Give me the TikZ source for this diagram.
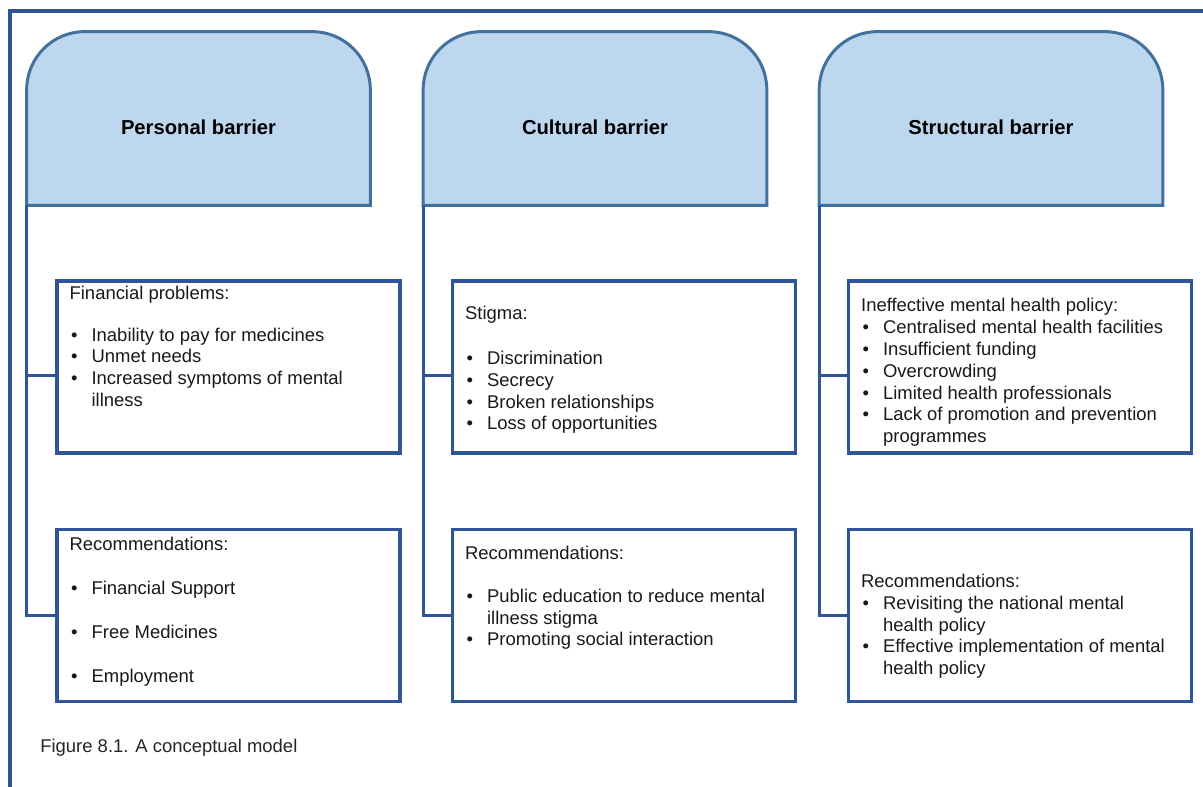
\documentclass[tikz,border=0pt]{standalone}
\usepackage{fontspec}
\setmainfont{Liberation Sans}
\usetikzlibrary{positioning,calc}
\definecolor{headfill}{HTML}{BDD7EE}
\definecolor{headline}{HTML}{41719C}
\definecolor{boxline}{HTML}{2F5597}
\pgfdeclarelayer{bg}
\pgfsetlayers{bg,main}
\newcommand{\itm}{\makebox[0.44cm][l]{\hspace{0.03cm}\textbullet}}

\begin{document}
\begin{tikzpicture}[
    x=0.02cm, y=0.02cm,
    head/.style={minimum width=6.86cm, minimum height=3.46cm, inner sep=0pt, text height=18pt, text depth=0pt, font=\bfseries\fontsize{11.5}{14}\selectfont},
    headshape/.style={draw=headline, fill=headfill, line width=1.7pt},
    box/.style={draw=boxline, line width=2pt, minimum width=6.86cm, minimum height=3.44cm, inner sep=0pt},
    txt/.style={anchor=north west, inner sep=0pt, align=left, text=black!90, font=\fontsize{10.5}{12.4}\selectfont},
    link/.style={draw=boxline, line width=1.7pt}
  ]
    \useasboundingbox (0,0) rectangle (1203,787);
    % outer frame
    \draw[boxline, line width=2pt] (1203,776) -| (10,0);
    % barrier headers
    \node[head] (h1) at (198.5,668.5) {Personal barrier};
    \node[head] (h2) at (595,668.5)   {Cultural barrier};
    \node[head] (h3) at (991,668.5)   {Structural barrier};
    \begin{pgfonlayer}{bg}
      \foreach \h in {h1,h2,h3}
        \draw[headshape] (\h.south west) -- ([yshift=-1.16cm]\h.north west)
          arc[start angle=180, end angle=90, radius=1.16cm] -- ([xshift=-1.16cm]\h.north east)
          arc[start angle=90, end angle=0, radius=1.16cm] -- (\h.south east) -- cycle;
    \end{pgfonlayer}
    % problem boxes and recommendation boxes
    \node[box] (a1) at (228.5,420)  {};
    \node[box] (b1) at (228.5,171.5) {};
    \node[box] (a2) at (624,420)    {};
    \node[box] (b2) at (624,171.5)  {};
    \node[box] (a3) at (1020,420)   {};
    \node[box] (b3) at (1020,171.5) {};
    % connectors
    \foreach \i in {1,2,3} {
      \coordinate (p\i) at ($(a\i.west)+(0,-9)$);
      \draw[link] (h\i.south west) |- (b\i.west);
      \draw[link] (p\i) -- (p\i -| h\i.south west);
    }
    % personal
    \node[txt] (t1a) at ($(a1.north west)+(14,-7)$) {Financial problems:\\[11pt]
      \itm Inability to pay for medicines\\
      \itm Unmet needs\\
      \itm Increased symptoms of mental\\
      \hspace*{0.44cm}illness};
    \node[txt] (t1b) at ($(b1.north west)+(14,-9)$) {Recommendations:\\[12.6pt]
      \itm Financial Support\\[12.6pt]
      \itm Free Medicines\\[12.6pt]
      \itm Employment};
    % cultural
    \node[txt] (t2a) at ($(a2.north west)+(14,-27)$) {Stigma:\\[13pt]
      \itm Discrimination\\
      \itm Secrecy\\
      \itm Broken relationships\\
      \itm Loss of opportunities};
    \node[txt] (t2b) at ($(b2.north west)+(14,-18)$) {Recommendations:\\[12pt]
      \itm Public education to reduce mental\\
      \hspace*{0.44cm}illness stigma\\
      \itm Promoting social interaction};
    % structural
    \node[txt] (t3a) at ($(a3.north west)+(14,-19)$) {Ineffective mental health policy:\\
      \itm Centralised mental health facilities\\
      \itm Insufficient funding\\
      \itm Overcrowding\\
      \itm Limited health professionals\\
      \itm Lack of promotion and prevention\\
      \hspace*{0.44cm}programmes};
    \node[txt] (t3b) at ($(b3.north west)+(14,-46)$) {Recommendations:\\
      \itm Revisiting the national mental\\
      \hspace*{0.44cm}health policy\\
      \itm Effective implementation of mental\\
      \hspace*{0.44cm}health policy};
    % caption
    \node[anchor=west, inner sep=0pt, text=black!85, font=\fontsize{10.5}{12.4}\selectfont] (cap) at (40,39) {Figure 8.1. A conceptual model};
  \end{tikzpicture}
\end{document}
